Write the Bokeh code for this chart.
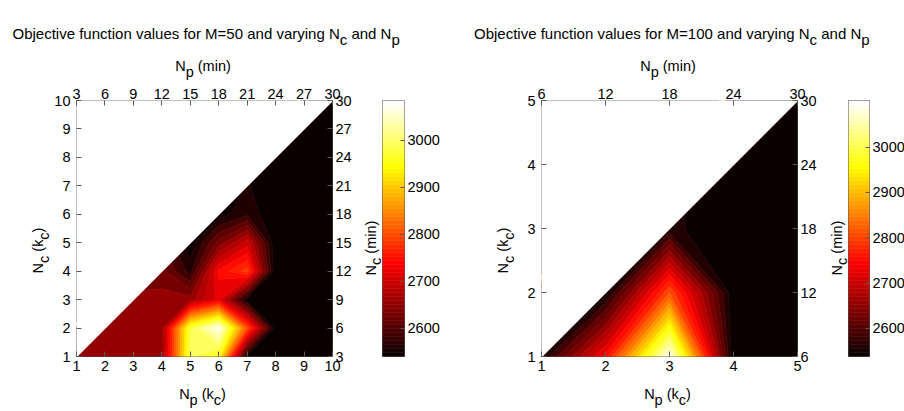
import numpy as np
from math import pi, cos, sin
from bokeh.plotting import figure
from bokeh.plotting.contour import contour_data
from bokeh.layouts import row, column
from bokeh.models import LinearAxis, FixedTicker, Range1d
from bokeh.core.properties import value
from bokeh.embed import file_html
from bokeh.resources import INLINE

nan = float("nan")

# ---------------- data: M = 50 ----------------
np_kc_50 = [1, 2, 3, 4, 5, 6, 7, 8, 9, 10]          # Np (kc)  -> x
nc_kc_50 = [1, 2, 3, 4, 5, 6, 7, 8, 9, 10]          # Nc (kc)  -> y
np_min_50 = [3, 6, 9, 12, 15, 18, 21, 24, 27, 30]   # Np (min) top axis
nc_min_50 = [3, 6, 9, 12, 15, 18, 21, 24, 27, 30]   # Nc (min) right axis
# rows: Nc = 1..10, columns: Np = 1..10 (only Np >= Nc defined)
obj_50 = [
    [2660, 2660, 2660, 2662, 3000, 2960, 2545, 2541, 2541, 2541],
    [nan, 2660, 2660, 2662, 2990, 3085, 2810, 2541, 2541, 2541],
    [nan, nan, 2660, 2662, 2665, 2730, 2550, 2541, 2541, 2541],
    [nan, nan, nan, 2640, 2575, 2750, 2800, 2541, 2541, 2541],
    [nan, nan, nan, nan, 2545, 2640, 2710, 2541, 2541, 2541],
    [nan, nan, nan, nan, nan, 2550, 2580, 2541, 2541, 2541],
    [nan, nan, nan, nan, nan, nan, 2565, 2541, 2541, 2541],
    [nan, nan, nan, nan, nan, nan, nan, 2541, 2541, 2541],
    [nan, nan, nan, nan, nan, nan, nan, nan, 2541, 2541],
    [nan, nan, nan, nan, nan, nan, nan, nan, nan, 2540],
]

# ---------------- data: M = 100 ----------------
np_kc_100 = [1, 2, 3, 4, 5]
nc_kc_100 = [1, 2, 3, 4, 5]
np_min_100 = [6, 12, 18, 24, 30]
nc_min_100 = [6, 12, 18, 24, 30]
obj_100 = [
    [2560, 2760, 3103, 2538, 2540],
    [nan, 2550, 2820, 2540, 2540],
    [nan, nan, 2568, 2540, 2540],
    [nan, nan, nan, 2540, 2541],
    [nan, nan, nan, nan, 2540],
]

cbar_ticks = [2600, 2700, 2800, 2900, 3000]
n_bands = 24

FONT = "Liberation Sans"
AX_COLOR = "#5a5a5a"
TOP_H, ROW_H, BOT_H = 81, 296, 34
B_TOP, B_BOT = 19, 21

# Arial / Liberation Sans advance widths (per 1000 em)
W = {' ': 278, '(': 333, ')': 333, '0': 556, '1': 556, '5': 556, '=': 584,
     'M': 833, 'N': 722, 'O': 778, 'a': 556, 'b': 556, 'c': 500, 'd': 556,
     'e': 556, 'f': 278, 'g': 556, 'i': 222, 'j': 222, 'k': 500, 'l': 222,
     'm': 833, 'n': 556, 'o': 556, 'p': 556, 'r': 333, 's': 500, 't': 278,
     'u': 556, 'v': 500, 'y': 500}


def tw(s, size):
    return sum(W.get(ch, 556) for ch in s) * size / 1000.0


def hot(m=64):
    n = int(3 * m / 8)
    out = []
    for k in range(m):
        r = min(1.0, (k + 1) / n)
        g = 0.0 if k < n else min(1.0, (k + 1 - n) / n)
        b = 0.0 if k < 2 * n else (k + 1 - 2 * n) / (m - 2 * n)
        out.append("#%02x%02x%02x" % (round(r * 255), round(g * 255), round(b * 255)))
    return out


HOT = hot(64)


def text_fig(w, h):
    f = figure(frame_width=w, frame_height=h, min_border=0,
               x_range=Range1d(0, w), y_range=Range1d(0, h),
               output_backend="svg", toolbar_location=None,
               x_axis_location=None, y_axis_location=None)
    f.grid.visible = False
    f.outline_line_color = None
    return f


def rich(f, x, y, pieces, size, angle=0.0, center=True, sub_shift=6.0):
    """Text with subscripts, drawn with text glyphs (x, y in pixels, y upward)."""
    widths = [tw(t, size) for t, _ in pieces]
    s = -sum(widths) / 2.0 if center else 0.0
    ca, sa = cos(angle), sin(angle)
    xs, ys, ts = [], [], []
    for (t, sub), w in zip(pieces, widths):
        lead = len(t) - len(t.lstrip(' '))
        s0 = s + tw(' ' * lead, size)
        d = sub_shift if sub else 0.0
        xs.append(x + s0 * ca + d * sa)
        ys.append(y + s0 * sa - d * ca)
        ts.append(t.strip(' '))
        s += w
    f.text(x=xs, y=ys, text=ts, angle=angle, text_font=value(FONT),
           text_font_size=value(f"{size}px"), text_baseline="alphabetic",
           text_align="left", text_color="black")


def complete(obj, outside):
    z = np.array(obj, dtype=float)
    n = z.shape[0]
    for i in range(n - 1):
        # plane through the lower-right triangle of the diagonal cell
        z[i + 1, i] = z[i, i] + z[i + 1, i + 1] - z[i, i + 1]
        for j in range(i + 2, n):
            z[j, i] = outside
    return z


def style_axis(ax, standoff, size="14.5px"):
    ax.axis_line_color = None
    ax.major_tick_in = 5
    ax.major_tick_out = 0
    ax.minor_tick_in = 0
    ax.minor_tick_out = 0
    ax.major_tick_line_color = AX_COLOR
    ax.major_label_text_font = FONT
    ax.major_label_text_font_size = size
    ax.major_label_text_color = "black"
    ax.major_label_standoff = standoff


def make_plot(np_kc, nc_kc, np_min, nc_min, obj):
    vals = np.array(obj, dtype=float)
    cmin, cmax = float(np.nanmin(vals)), float(np.nanmax(vals))
    z = complete(obj, cmax + 2000.0)
    p = figure(frame_width=256, frame_height=256, min_border_left=26,
               min_border_right=22, min_border_top=B_TOP, min_border_bottom=B_BOT,
               x_range=Range1d(np_kc[0], np_kc[-1]), y_range=Range1d(nc_kc[0], nc_kc[-1]),
               output_backend="svg", toolbar_location=None)
    p.grid.visible = False
    p.outline_line_color = AX_COLOR
    p.outline_line_width = 1

    levels = [cmin + (cmax - cmin) * k / n_bands for k in range(n_bands + 1)]
    colors = [HOT[min(63, int(k * 64 / n_bands))] for k in range(n_bands)]
    lv = list(levels)
    lv[0] -= 1.0
    lv[-1] += 1.0
    cd = contour_data(x=np.array(np_kc, float), y=np.array(nc_kc, float), z=z,
                      levels=lv, want_fill=True, want_line=False)
    fd = cd.fill_data
    xs, ys, cs = [], [], []
    for k in range(len(fd.xs)):
        if len(fd.xs[k]) == 0:
            continue
        xs.append(fd.xs[k])
        ys.append(fd.ys[k])
        cs.append(colors[k])
    p.multi_polygons(xs=xs, ys=ys, fill_color=cs, line_color=cs, line_width=0.7)
    # region where Np < Nc is undefined
    p.patch(x=[np_kc[0], np_kc[0], np_kc[-1]], y=[nc_kc[0], nc_kc[-1], nc_kc[-1]],
            fill_color="white", line_color="white", line_width=1.5)

    bx = p.below[0]
    ly = p.left[0]
    bx.ticker = FixedTicker(ticks=np_kc)
    ly.ticker = FixedTicker(ticks=nc_kc)
    top = LinearAxis(ticker=FixedTicker(ticks=np_kc),
                     major_label_overrides={k: str(v) for k, v in zip(np_kc, np_min)})
    rgt = LinearAxis(ticker=FixedTicker(ticks=nc_kc),
                     major_label_overrides={k: str(v) for k, v in zip(nc_kc, nc_min)})
    p.add_layout(top, "above")
    p.add_layout(rgt, "right")
    style_axis(bx, 4)
    style_axis(ly, 6)
    style_axis(top, 2)
    style_axis(rgt, 3)
    return p, cmin, cmax


def make_cbar(cmin, cmax, border_left, border_right, frame_w):
    cb = figure(frame_width=frame_w, frame_height=256, min_border_left=border_left,
                min_border_right=border_right, min_border_top=B_TOP, min_border_bottom=B_BOT,
                x_range=Range1d(0, 1), y_range=Range1d(cmin, cmax),
                output_backend="svg", toolbar_location=None,
                y_axis_location="right", x_axis_location=None)
    cb.grid.visible = False
    edges = np.linspace(cmin, cmax, len(HOT) + 1)
    cb.quad(left=0, right=1, bottom=edges[:-1], top=edges[1:],
            fill_color=HOT, line_color=HOT, line_width=0.5)
    cb.outline_line_color = AX_COLOR
    ax = cb.right[0]
    ax.ticker = FixedTicker(ticks=cbar_ticks)
    style_axis(ax, 3)
    ax.major_tick_in = 4
    return cb


title50 = [("Objective function values for M=50 and varying N", False), ("c", True),
           (" and N", False), ("p", True)]
title100 = [("Objective function values for M=100 and varying N", False), ("c", True),
            (" and N", False), ("p", True)]
lab_np_min = [("N", False), ("p", True), (" (min)", False)]
lab_np_kc = [("N", False), ("p", True), (" (k", False), ("c", True), (")", False)]
lab_nc_kc = [("N", False), ("c", True), (" (k", False), ("c", True), (")", False)]
lab_nc_min = [("N", False), ("c", True), (" (min)", False)]

# ---- plots ----
pA, a_min, a_max = make_plot(np_kc_50, nc_kc_50, np_min_50, nc_min_50, obj_50)
cbA = make_cbar(a_min, a_max, 0, 48, 22)
pC, c_min, c_max = make_plot(np_kc_100, nc_kc_100, np_min_100, nc_min_100, obj_100)
cbC = make_cbar(c_min, c_max, 0, 35, 21)

# ---- text strips ----
top_strip = text_fig(904, TOP_H)
rich(top_strip, 12, TOP_H - 33.3, title50, 15, center=False)
rich(top_strip, 473.5, TOP_H - 33.3, title100, 15, center=False)
rich(top_strip, 202.5, TOP_H - 65, lab_np_min, 14.5)
rich(top_strip, 667.5, TOP_H - 65, lab_np_min, 14.5)

bot_strip = text_fig(904, BOT_H)
rich(bot_strip, 202, BOT_H - (393.3 - (TOP_H + ROW_H)), lab_np_kc, 14.5)
rich(bot_strip, 667, BOT_H - (393.3 - (TOP_H + ROW_H)), lab_np_kc, 14.5)

leftA = text_fig(50, ROW_H)
rich(leftA, 37, (TOP_H + ROW_H) - 231, lab_nc_kc, 14.5, angle=pi / 2)
midA = text_fig(28, ROW_H)
rich(midA, 16, (TOP_H + ROW_H) - 228.5, lab_nc_min, 14.5, angle=pi / 2, sub_shift=5.0)
leftC = text_fig(63, ROW_H)
rich(leftC, 50, (TOP_H + ROW_H) - 231, lab_nc_kc, 14.5, angle=pi / 2)
midC = text_fig(29, ROW_H)
rich(midC, 17, (TOP_H + ROW_H) - 228.5, lab_nc_min, 14.5, angle=pi / 2, sub_shift=5.0)

layout = column(top_strip,
                row(leftA, pA, midA, cbA, leftC, pC, midC, cbC),
                bot_strip)
open("out.html", "w").write(file_html(layout, INLINE, title="Objective function values"))
